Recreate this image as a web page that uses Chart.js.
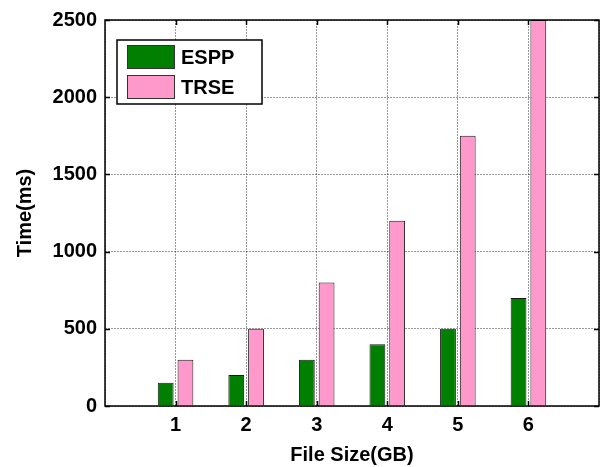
<!DOCTYPE html>
<html>
<head>
<meta charset="utf-8">
<script src="https://cdn.jsdelivr.net/npm/chart.js@4.4.0/dist/chart.umd.min.js"></script>
<style>
  html, body { margin: 0; padding: 0; background: #fff; }
  #wrap { width: 606px; height: 467px; }
</style>
</head>
<body>
<div id="wrap"><canvas id="timeChart" width="606" height="467"></canvas></div>
<script>
Chart.defaults.font.family = '"Liberation Sans", Arial, sans-serif';
Chart.defaults.font.weight = 'bold';
Chart.defaults.font.size = 20;
Chart.defaults.color = '#000';

// x = 0 and x = 7 are empty slots so the axis runs 0..7 like the original
const fileSizes = ['', '1', '2', '3', '4', '5', '6', ''];
const esppTimes = [null, 150, 200, 300, 400, 500, 700, null];
const trseTimes = [null, 300, 500, 800, 1200, 1750, 2500, null];
const yTicks = [0, 500, 1000, 1500, 2000, 2500];

// frame, inward ticks and the boxed legend
const framePlugin = {
    id: 'frame',
    afterDraw(chart) {
        const {ctx, chartArea: a, scales} = chart;
        ctx.save();
        ctx.strokeStyle = '#000';
        ctx.lineWidth = 1.5;
        ctx.beginPath();
        for (let v of yTicks) {
            let y = Math.round(scales.y.getPixelForValue(v)) + 0.5;
            ctx.moveTo(a.left, y); ctx.lineTo(a.left + 5, y);
            ctx.moveTo(a.right, y); ctx.lineTo(a.right - 5, y);
        }
        for (let i = 1; i < fileSizes.length - 1; i++) {
            let x = Math.round(scales.x.getPixelForValue(i)) + 0.5;
            ctx.moveTo(x, a.top); ctx.lineTo(x, a.top + 5);
            ctx.moveTo(x, a.bottom); ctx.lineTo(x, a.bottom - 5);
        }
        ctx.stroke();
        ctx.strokeRect(a.left, a.top, a.right - a.left, a.bottom - a.top);

        // legend
        let lx = a.left + 12, ly = a.top + 20;
        ctx.fillStyle = '#fff';
        ctx.fillRect(lx, ly, 145, 64);
        ctx.lineWidth = 1.5;
        ctx.strokeRect(lx, ly, 145, 64);
        ctx.font = 'bold 20px "Liberation Sans", Arial, sans-serif';
        ctx.textBaseline = 'middle';
        chart.data.datasets.forEach((ds, i) => {
            let sy = ly + 5 + i * 30;
            ctx.fillStyle = ds.backgroundColor;
            ctx.fillRect(lx + 10, sy, 47, 23);
            ctx.lineWidth = 1;
            ctx.strokeStyle = '#333';
            ctx.strokeRect(lx + 10.5, sy + 0.5, 47, 23);
            ctx.fillStyle = '#000';
            ctx.fillText(ds.label, lx + 64, sy + 13);
        });
        ctx.restore();
    }
};

let timeChart = new Chart(document.getElementById('timeChart').getContext('2d'), {
    type: 'bar',
    data: {
        labels: fileSizes,
        datasets: [
            {
                label: 'ESPP',
                data: esppTimes,
                backgroundColor: '#007f00',
                borderColor: '#1a1a1a',
                borderWidth: 1,
                categoryPercentage: 0.56,
                barPercentage: 0.8
            },
            {
                label: 'TRSE',
                data: trseTimes,
                backgroundColor: '#ff99cc',
                borderColor: '#1a1a1a',
                borderWidth: 1,
                categoryPercentage: 0.56,
                barPercentage: 0.8
            }
        ]
    },
    options: {
        responsive: false,
        animation: false,
        layout: {padding: {top: 20, right: 5, left: 0, bottom: 0}},
        plugins: {legend: {display: false}, tooltip: {enabled: false}},
        scales: {
            x: {
                offset: false,
                grid: {
                    offset: false,
                    drawTicks: false,
                    color: 'rgba(0,0,0,0.4)'
                },
                border: {display: false, dash: [2, 1]},
                ticks: {padding: 7, font: {size: 20, weight: 'bold'}},
                title: {display: true, text: 'File Size(GB)', padding: {top: 0, bottom: 0}, font: {size: 20, weight: 'bold'}},
                afterFit(scale) { scale.height = 61; }
            },
            y: {
                min: 0,
                max: 2500,
                afterBuildTicks(scale) { scale.ticks = yTicks.map(v => ({value: v})); },
                grid: {
                    drawTicks: false,
                    color: 'rgba(0,0,0,0.4)'
                },
                border: {display: false, dash: [2, 1]},
                ticks: {
                    padding: 8,
                    font: {size: 20, weight: 'bold'},
                    callback: v => String(v)
                },
                title: {display: true, text: 'Time(ms)', padding: {top: 13, bottom: 0}, font: {size: 20, weight: 'bold'}},
                afterFit(scale) { scale.width = 105; }
            }
        }
    },
    plugins: [framePlugin]
});
</script>
</body>
</html>
